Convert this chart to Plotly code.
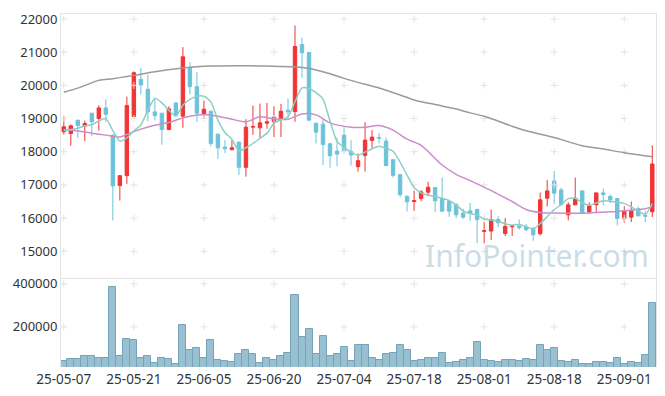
import plotly.graph_objects as go
import pandas as pd

dates = [
    "25-05-07", "25-05-08", "25-05-09", "25-05-12", "25-05-13", "25-05-14", "25-05-15", "25-05-16",
    "25-05-19", "25-05-20", "25-05-21", "25-05-22", "25-05-23", "25-05-26", "25-05-27", "25-05-28",
    "25-05-29", "25-05-30", "25-06-02", "25-06-04", "25-06-05", "25-06-09", "25-06-10", "25-06-11",
    "25-06-12", "25-06-13", "25-06-16", "25-06-17", "25-06-18", "25-06-19", "25-06-20", "25-06-23",
    "25-06-24", "25-06-25", "25-06-26", "25-06-27", "25-06-30", "25-07-01", "25-07-02", "25-07-03",
    "25-07-04", "25-07-07", "25-07-08", "25-07-09", "25-07-10", "25-07-11", "25-07-14", "25-07-15",
    "25-07-16", "25-07-17", "25-07-18", "25-07-21", "25-07-22", "25-07-23", "25-07-24", "25-07-25",
    "25-07-28", "25-07-29", "25-07-30", "25-07-31", "25-08-01", "25-08-04", "25-08-05", "25-08-06",
    "25-08-07", "25-08-08", "25-08-11", "25-08-12", "25-08-13", "25-08-14", "25-08-18", "25-08-19",
    "25-08-20", "25-08-21", "25-08-22", "25-08-25", "25-08-26", "25-08-27", "25-08-28", "25-08-29",
    "25-09-01", "25-09-02", "25-09-03", "25-09-04", "25-09-05",
]

open_ = [18600, 18550, 18950, 18780, 19160, 19000, 19320, 18500, 16980, 17280,
         19060, 20180, 19880, 19200, 19160, 18670, 19470, 19070, 20530, 19960,
         19140, 19220, 18530, 18140, 18060, 18290, 17530, 18740, 18720, 18860,
         18900, 19000, 19250, 19210, 21230, 20990, 18860, 18830, 18240, 18020,
         18500, 18010, 17550, 17890, 18340, 18430, 18320, 17760, 17310, 16660,
         16500, 16590, 16780, 16920, 16590, 16500, 16420, 16150, 16220, 16260,
         15600, 15610, 15960, 15540, 15740, 15760, 15730, 15700, 15530, 16600,
         17120, 16850, 16100, 16400, 16820, 16190, 16400, 16760, 16650, 16590,
         15980, 16030, 16280, 16080, 16190]
high = [19070, 18820, 18960, 18940, 19170, 19400, 19580, 18520, 17290, 19660,
        20420, 20530, 20320, 19610, 19170, 19370, 19480, 21150, 20700, 20400,
        19540, 19230, 18540, 18350, 18370, 18300, 18980, 19390, 19450, 19470,
        19370, 19440, 19600, 21800, 21440, 21000, 18870, 18970, 18250, 18420,
        18770, 18350, 17950, 18890, 18650, 18560, 18430, 17770, 17320, 16670,
        16830, 16840, 17090, 16930, 17220, 16510, 16430, 16280, 16460, 16290,
        15880, 16260, 16060, 16000, 15780, 15960, 15830, 15720, 16770, 17150,
        17420, 16920, 16480, 17220, 16830, 16480, 16770, 16890, 16720, 16600,
        16360, 16500, 16350, 16210, 18190]
low = [18520, 18180, 18420, 18320, 18470, 18640, 18900, 15930, 16530, 17030,
       19040, 19730, 18920, 18940, 18210, 18650, 19090, 18720, 19730, 18900,
       18990, 18160, 17780, 17960, 18050, 17300, 17250, 18510, 18420, 18690,
       18440, 18440, 19020, 18900, 20230, 18940, 18250, 17600, 17520, 17560,
       18000, 17580, 17400, 17400, 18120, 18250, 17570, 17220, 16630, 16200,
       16220, 16510, 16670, 16180, 16200, 16040, 16000, 15980, 15910, 15240,
       15240, 15340, 15730, 15460, 15460, 15650, 15600, 15320, 15480, 16350,
       16430, 16400, 15930, 16390, 16150, 16120, 16150, 16400, 16450, 15780,
       15860, 15880, 16050, 15880, 16030]
close = [18750, 18780, 18790, 18850, 18900, 19320, 19130, 16970, 17280, 19390,
         20380, 20010, 19200, 19090, 18670, 19290, 19100, 20860, 19960, 19160,
         19280, 18250, 18120, 18090, 18120, 17530, 18740, 18760, 18870, 18900,
         19040, 19220, 19200, 21170, 20980, 18950, 18590, 18220, 17880, 17930,
         18030, 17900, 17730, 18350, 18440, 18410, 17580, 17290, 16710, 16490,
         16530, 16790, 16930, 16520, 16210, 16210, 16100, 16030, 16150, 15960,
         15620, 15960, 15860, 15750, 15760, 15710, 15650, 15500, 16550, 16820,
         16750, 16410, 16400, 16600, 16160, 16370, 16760, 16710, 16550, 15990,
         16210, 16230, 16070, 16060, 17630]
volume = [40000, 49000, 49000, 63000, 63000, 55000, 58000, 386000, 63000, 146000,
          137000, 58000, 63000, 31000, 58000, 49000, 26000, 211000, 95000, 100000,
          58000, 137000, 45000, 40000, 35000, 72000, 95000, 72000, 31000, 54000,
          45000, 63000, 81000, 349000, 151000, 192000, 72000, 160000, 63000, 72000,
          106000, 40000, 118000, 118000, 54000, 45000, 72000, 81000, 114000, 95000,
          40000, 45000, 54000, 58000, 77000, 31000, 35000, 45000, 54000, 128000,
          45000, 40000, 35000, 45000, 45000, 40000, 49000, 45000, 114000, 91000,
          100000, 40000, 35000, 45000, 26000, 26000, 35000, 35000, 31000, 58000,
          26000, 35000, 31000, 68000, 312000]

# moving averages (MA5 continued from closes)
ma5_head = [18640, 18670, 18710, 18780]
ma20_idx = [0, 2, 4, 6, 8, 9, 11, 13, 15, 17, 18, 20, 22, 24, 26, 28, 30, 32, 34, 36,
            38, 41, 43, 45, 47, 49, 51, 54, 56, 58, 61, 64, 66, 68, 71, 74, 78, 81, 83, 84]
ma20_val = [18670, 18625, 18560, 18500, 18445, 18520, 18680, 18800, 18880, 19020,
            19070, 19120, 19070, 18980, 18900, 19050, 18990, 18980, 19140, 19110,
            18870, 18740, 18740, 18790, 18650, 18380, 18190, 17600, 17320, 17130,
            16830, 16500, 16260, 16170, 16150, 16150, 16190, 16240, 16280, 16360]
ma60_idx = [0, 2, 5, 7, 10, 13, 17, 19, 21, 25, 29, 33, 35, 38, 40, 43, 45, 48, 50,
            53, 56, 58, 60, 64, 66, 70, 74, 77, 80, 84]
ma60_val = [19790, 19915, 20150, 20200, 20300, 20410, 20520, 20560, 20580, 20590,
            20580, 20560, 20510, 20350, 20210, 20030, 19920, 19710, 19560, 19420,
            19290, 19170, 19070, 18770, 18630, 18430, 18180, 18080, 17970, 17850]

tick_dates = ["25-05-07", "25-05-21", "25-06-05", "25-06-20", "25-07-04",
              "25-07-18", "25-08-01", "25-08-18", "25-09-01"]
price_ticks = [15000, 16000, 17000, 18000, 19000, 20000, 21000, 22000]
volume_ticks = [200000, 400000]

ma5 = ma5_head + list(pd.Series(close).rolling(5).mean().iloc[len(ma5_head):])

UP = "#ef3535"
DOWN = "#6cc3d9"
GRID = "#e3e3e3"
FONT = "Noto Sans"

fig = go.Figure()

# grid crosses
gx = [d for d in tick_dates for _ in price_ticks]
gy = [p for _ in tick_dates for p in price_ticks]
fig.add_trace(go.Scatter(x=gx, y=gy, mode="markers", xaxis="x", yaxis="y",
                         marker=dict(symbol="cross-thin", size=5, line=dict(color=GRID, width=1)),
                         hoverinfo="skip"))
vx = [d for d in tick_dates for _ in volume_ticks]
vy = [v for _ in tick_dates for v in volume_ticks]
fig.add_trace(go.Scatter(x=vx, y=vy, mode="markers", xaxis="x2", yaxis="y2",
                         marker=dict(symbol="cross-thin", size=5, line=dict(color=GRID, width=1)),
                         hoverinfo="skip"))

# moving averages
fig.add_trace(go.Scatter(x=[dates[i] for i in ma60_idx], y=ma60_val, mode="lines",
                         line=dict(color="#9a9a9a", width=1.5, shape="spline", smoothing=0.8),
                         xaxis="x", yaxis="y"))
fig.add_trace(go.Scatter(x=[dates[i] for i in ma20_idx], y=ma20_val, mode="lines",
                         line=dict(color="#cc8ccb", width=1.5, shape="spline", smoothing=0.8),
                         xaxis="x", yaxis="y"))
fig.add_trace(go.Scatter(x=dates, y=ma5, mode="lines",
                         line=dict(color="#8ccfc5", width=1.5, shape="spline", smoothing=0.6),
                         xaxis="x", yaxis="y"))

# candles
fig.add_trace(go.Candlestick(x=dates, open=open_, high=high, low=low, close=close,
                             increasing=dict(fillcolor=UP, line=dict(color=UP, width=1)),
                             decreasing=dict(fillcolor=DOWN, line=dict(color=DOWN, width=1)),
                             whiskerwidth=0, xaxis="x", yaxis="y"))

# volume
fig.add_trace(go.Bar(x=dates, y=volume, xaxis="x2", yaxis="y2",
                     marker=dict(color="#99c0d0", line=dict(color="#75a3b8", width=1))))

split = 90 / 357
common_x = dict(type="category", categoryorder="array", categoryarray=dates,
                range=[-0.4, 84.53], tickvals=tick_dates, ticktext=tick_dates,
                showgrid=False, zeroline=False, ticks="", fixedrange=True)

# page body has an 8px margin, so the figure is 8px smaller and shifted
fig.update_layout(
    width=657, height=388,
    margin=dict(l=53, r=9, t=2, b=29),
    paper_bgcolor="white", plot_bgcolor="white",
    showlegend=False, bargap=0, boxgap=0.3,
    font=dict(family=FONT, size=13, color="#333333"),
    xaxis=dict(**common_x, anchor="y", showticklabels=False,
               showline=True, mirror=True, linecolor="#e4e4e4", linewidth=1,
               rangeslider=dict(visible=False)),
    yaxis=dict(domain=[split, 1], range=[14196, 22149], tickvals=price_ticks,
               tickformat="d", showgrid=False, zeroline=False, ticks="",
               showline=True, mirror=True, linecolor="#e4e4e4", linewidth=1),
    xaxis2=dict(**common_x, anchor="y2", showticklabels=True, showline=False,
                tickfont=dict(size=13.5), ticklabelstandoff=2),
    yaxis2=dict(domain=[0, split], range=[14000, 426800], tickvals=volume_ticks,
                tickformat="d", showgrid=False, zeroline=False, ticks="",
                showline=True, mirror=True, linecolor="#e4e4e4", linewidth=1),
    annotations=[dict(text="InfoPointer.com", xref="paper", yref="paper",
                      x=(651 - 61) / (656 - 61), y=(367 - 254) / 357,
                      xanchor="right", yanchor="middle", showarrow=False,
                      font=dict(family=FONT, size=30, color="rgba(150,185,205,0.5)"))],
)

fig.write_html("out.html")
